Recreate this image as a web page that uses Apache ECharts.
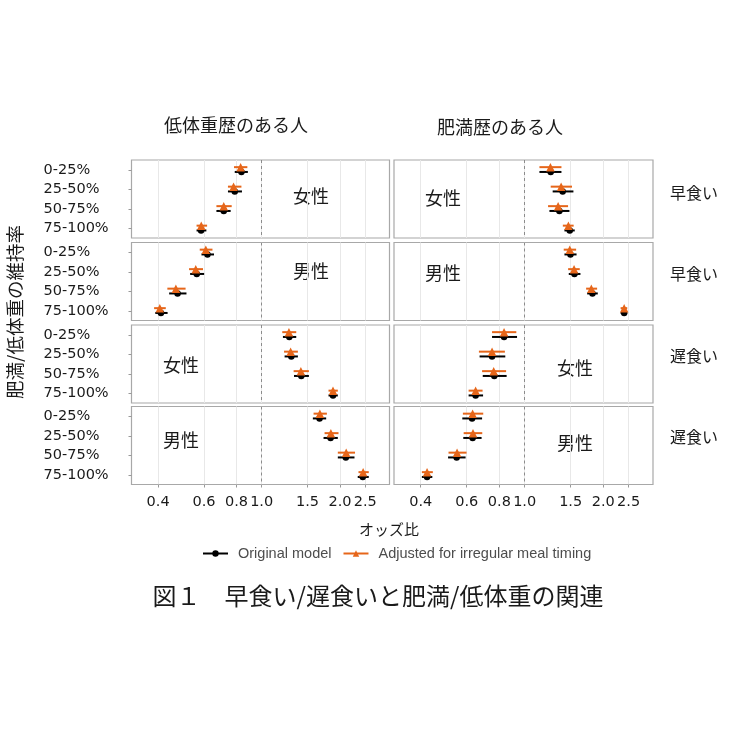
<!DOCTYPE html>
<html><head><meta charset="utf-8">
<script src="https://cdn.jsdelivr.net/npm/echarts@6/dist/echarts.min.js"></script>
<style>html,body{margin:0;padding:0;background:#fff}#c{width:737px;height:737px}</style>
</head><body><div id="c"></div>
<script>
// ---------- data ----------
const categories = ['0-25%', '25-50%', '50-75%', '75-100%'];
const xTicks = [0.4, 0.6, 0.8, 1.0, 1.5, 2.0, 2.5];
const columnTitles = ['低体重歴のある人', '肥満歴のある人'];
const rowLabels = ['早食い', '早食い', '遅食い', '遅食い'];
const panelLabels = ['女性', '男性', '女性', '男性'];
const seriesNames = ['Original model', 'Adjusted for irregular meal timing'];

// each entry: [odds ratio, lower, upper] per category
// 低体重歴のある人
const uwFastFemaleOrig = [[0.836, 0.788, 0.885], [0.788, 0.742, 0.840], [0.715, 0.670, 0.760], [0.585, 0.562, 0.613]];
const uwFastFemaleAdj  = [[0.830, 0.783, 0.881], [0.780, 0.742, 0.836], [0.715, 0.670, 0.767], [0.586, 0.562, 0.617]];
const uwFastMaleOrig   = [[0.619, 0.587, 0.656], [0.563, 0.531, 0.601], [0.475, 0.441, 0.514], [0.410, 0.390, 0.435]];
const uwFastMaleAdj    = [[0.610, 0.578, 0.647], [0.558, 0.526, 0.595], [0.468, 0.434, 0.510], [0.406, 0.386, 0.428]];
const uwSlowFemaleOrig = [[1.277, 1.207, 1.358], [1.300, 1.225, 1.378], [1.420, 1.331, 1.519], [1.880, 1.807, 1.962]];
const uwSlowFemaleAdj  = [[1.273, 1.200, 1.358], [1.292, 1.219, 1.378], [1.415, 1.327, 1.519], [1.880, 1.807, 1.962]];
const uwSlowMaleOrig   = [[1.669, 1.573, 1.770], [1.840, 1.729, 1.962], [2.106, 1.962, 2.274], [2.447, 2.340, 2.580]];
const uwSlowMaleAdj    = [[1.674, 1.583, 1.781], [1.845, 1.745, 1.974], [2.113, 1.962, 2.285], [2.455, 2.356, 2.580]];
// 肥満歴のある人
const obFastFemaleOrig = [[1.258, 1.139, 1.383], [1.398, 1.280, 1.537], [1.358, 1.244, 1.484], [1.488, 1.420, 1.555]];
const obFastFemaleAdj  = [[1.255, 1.139, 1.383], [1.379, 1.258, 1.518], [1.343, 1.229, 1.466], [1.470, 1.400, 1.540]];
const obFastMaleOrig   = [[1.497, 1.420, 1.580], [1.551, 1.475, 1.635], [1.818, 1.735, 1.905], [2.404, 2.330, 2.470]];
const obFastMaleAdj    = [[1.488, 1.411, 1.574], [1.546, 1.467, 1.625], [1.800, 1.719, 1.894], [2.404, 2.330, 2.470]];
const obSlowFemaleOrig = [[0.834, 0.750, 0.935], [0.750, 0.672, 0.843], [0.765, 0.691, 0.853], [0.649, 0.610, 0.693]];
const obSlowFemaleAdj  = [[0.834, 0.750, 0.929], [0.750, 0.668, 0.840], [0.761, 0.687, 0.849], [0.649, 0.610, 0.690]];
const obSlowMaleOrig   = [[0.629, 0.577, 0.687], [0.632, 0.582, 0.684], [0.549, 0.509, 0.594], [0.423, 0.404, 0.443]];
const obSlowMaleAdj    = [[0.632, 0.580, 0.694], [0.634, 0.584, 0.688], [0.551, 0.511, 0.599], [0.423, 0.404, 0.445]];

// panels in row-major order: [original, adjusted]
const panelData = [
  [uwFastFemaleOrig, uwFastFemaleAdj], [obFastFemaleOrig, obFastFemaleAdj],
  [uwFastMaleOrig, uwFastMaleAdj],     [obFastMaleOrig, obFastMaleAdj],
  [uwSlowFemaleOrig, uwSlowFemaleAdj], [obSlowFemaleOrig, obSlowFemaleAdj],
  [uwSlowMaleOrig, uwSlowMaleAdj],     [obSlowMaleOrig, obSlowMaleAdj]
];

// ---------- layout / style ----------
const CJK = '"Noto Sans CJK JP", sans-serif';
const NUM = '"DejaVu Sans", "Noto Sans CJK JP", sans-serif';
const colLeft = [131.5, 394], colWidth = [258, 259];
const rowTop = [160, 242.5, 325, 406.5], rowH = 78;
const colors = ['#000000', '#E6661A'];
const offsets = [2.2, -2.6];
const symbols = ['circle', 'triangle'];
const symbolSizes = [6.5, 8.5];

const grids = [], xAxes = [], yAxes = [], series = [];

// legend helper series (line + symbol icon)
seriesNames.forEach((n, m) => {
  series.push({
    type: 'line', name: n, data: [], xAxisIndex: 0, yAxisIndex: 0,
    symbol: symbols[m], symbolSize: symbolSizes[m],
    itemStyle: { color: colors[m] }, lineStyle: { color: colors[m], width: 2 }
  });
});

function errRender(offset, color) {
  return function (params, api) {
    const a = api.coord([api.value(0), api.value(2)]);
    const b = api.coord([api.value(1), api.value(2)]);
    return {
      type: 'line',
      shape: { x1: a[0], y1: a[1] + offset, x2: b[0], y2: b[1] + offset },
      style: { stroke: color, lineWidth: 2 }
    };
  };
}

for (let r = 0; r < 4; r++) {
  for (let c = 0; c < 2; c++) {
    const p = r * 2 + c;
    const bottom = r === 3;
    grids.push({
      left: colLeft[c], width: colWidth[c], top: rowTop[r], height: rowH,
      show: true, borderColor: '#a8a8a8', borderWidth: 1.2, backgroundColor: '#fff'
    });
    xAxes.push({
      type: 'log', logBase: 10, gridIndex: p, min: 0.316, max: 3.1,
      axisLine: { show: false },
      axisTick: { show: bottom, customValues: xTicks, length: 3, lineStyle: { color: '#999' } },
      axisLabel: {
        show: bottom, customValues: xTicks, formatter: v => Number(v).toFixed(1),
        fontSize: 14.5, color: '#1a1a1a', fontFamily: NUM, margin: 10
      },
      splitLine: { show: true, lineStyle: { color: '#e8e8e8', width: 1 } },
      minorTick: { show: false }, minorSplitLine: { show: false }
    });
    yAxes.push({
      type: 'category', gridIndex: p, data: categories, inverse: true,
      axisLine: { show: false },
      axisTick: { show: c === 0, length: 3, alignWithLabel: true, lineStyle: { color: '#999' } },
      axisLabel: {
        show: c === 0, align: 'left', margin: 88,
        fontSize: 14.5, color: '#1a1a1a', fontFamily: NUM
      },
      splitLine: { show: false }
    });
    panelData[p].forEach((arr, m) => {
      series.push({
        type: 'custom', name: seriesNames[m], xAxisIndex: p, yAxisIndex: p,
        renderItem: errRender(offsets[m], colors[m]),
        encode: { x: [0, 1], y: 2 },
        data: arr.map((d, i) => [d[1], d[2], i]),
        silent: true
      });
      const sc = {
        type: 'scatter', name: seriesNames[m], xAxisIndex: p, yAxisIndex: p,
        symbol: symbols[m], symbolSize: symbolSizes[m], symbolOffset: [0, offsets[m]],
        itemStyle: { color: colors[m], opacity: 1 },
        data: arr.map((d, i) => [d[0], i]),
        silent: true
      };
      if (m === 0) {
        sc.markLine = {
          silent: true, symbol: ['none', 'none'], label: { show: false },
          lineStyle: { color: '#8c8c8c', type: [3, 3], width: 1 },
          data: [{ xAxis: 1 }]
        };
      }
      series.push(sc);
    });
  }
}

// ---------- text decorations ----------
const graphic = [];
const colTitlePos = [[236, 125], [500, 127]];
columnTitles.forEach((t, i) => graphic.push({
  type: 'text', x: colTitlePos[i][0], y: colTitlePos[i][1],
  style: { text: t, font: '18px ' + CJK, fill: '#1a1a1a', align: 'center', verticalAlign: 'middle' }
}));
const rowLabelY = [193, 274, 356, 437];
rowLabels.forEach((t, i) => graphic.push({
  type: 'text', x: 670, y: rowLabelY[i],
  style: { text: t, font: '16px ' + CJK, fill: '#1a1a1a', align: 'left', verticalAlign: 'middle' }
}));
const panelLabelPos = [
  [[311, 196], [443, 198]],
  [[311, 271], [443, 273]],
  [[181, 365], [575, 368]],
  [[181, 440], [575, 443]]
];
for (let r = 0; r < 4; r++) for (let c = 0; c < 2; c++) {
  graphic.push({
    type: 'text', x: panelLabelPos[r][c][0], y: panelLabelPos[r][c][1],
    style: { text: panelLabels[r], font: '18px ' + CJK, fill: '#1a1a1a', align: 'center', verticalAlign: 'middle' }
  });
}
graphic.push({
  type: 'text', x: 15, y: 312, rotation: Math.PI / 2,
  style: { text: '肥満/低体重の維持率', font: '18.5px ' + CJK, fill: '#1a1a1a', align: 'center', verticalAlign: 'middle' }
});
graphic.push({
  type: 'text', x: 389, y: 529,
  style: { text: 'オッズ比', font: '15px ' + CJK, fill: '#1a1a1a', align: 'center', verticalAlign: 'middle' }
});
graphic.push({
  type: 'text', x: 378, y: 596,
  style: { text: '図１　早食い/遅食いと肥満/低体重の関連', font: '24px ' + CJK, fill: '#1a1a1a', align: 'center', verticalAlign: 'middle' }
});

const chart = echarts.init(document.getElementById('c'), null, { renderer: 'canvas' });
chart.setOption({
  backgroundColor: '#fff',
  animation: false,
  grid: grids,
  xAxis: xAxes,
  yAxis: yAxes,
  legend: {
    data: seriesNames, left: 197, top: 541,
    itemWidth: 25, itemHeight: 8, itemGap: 11,
    textStyle: { fontSize: 14.5, color: '#4d4d4d', padding: [0, 0, 0, 5],
      fontFamily: '"Liberation Sans", Arial, sans-serif' }
  },
  graphic: graphic,
  series: series
});
</script>
</body></html>
